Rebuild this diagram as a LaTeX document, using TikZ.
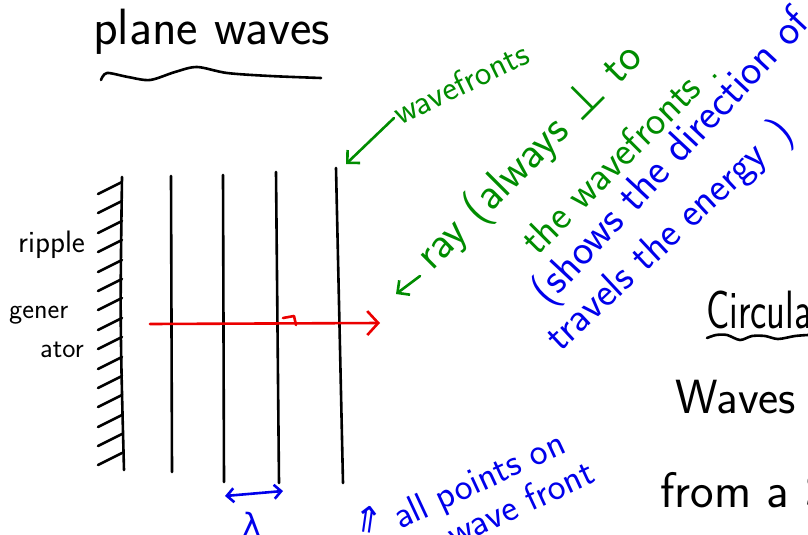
\documentclass[tikz,border=0pt]{standalone}
\usepackage{fontspec}
\usepackage{graphicx}
\usepackage{xcolor}
\usepackage{tikz}
\usetikzlibrary{calc,arrows.meta}
\newfontfamily\symfont{DejaVu Sans}
\definecolor{inkk}{HTML}{000000}
\definecolor{inkg}{HTML}{008C00}
\definecolor{inkb}{HTML}{0000EB}
\definecolor{inkr}{HTML}{EB0000}
\tikzset{
  pen/.style={line width=2.6pt,line cap=round,line join=round},
  barb/.style={-{Straight Barb[length=9pt,width=18pt,line width=2.6pt]}},
  hand/.style={font=\fontsize{#1}{#1}\selectfont\sffamily,inner sep=0pt,anchor=base west}
}
\begin{document}
\begin{tikzpicture}[x=1pt,y=-1pt]
\useasboundingbox (0,0) rectangle (808,535);
\clip (0,0) rectangle (808,535);
% title
\node[hand=51,inkk] (title) at (93,45) {plane waves};
\draw[pen,inkk] plot[smooth] coordinates {(101,80) (107,73) (128,77) (150,80) (175,72) (197,67) (227,73) (270,76) (321,78)};
% ripple generator
\draw[pen,inkk] (122,177) .. controls (120,320) .. (124,470);
\foreach \y in {182,201,221,240,260,279,298,318,337,357,376,395,415,434,453}{
  \draw[pen,inkk] (98,\y+12) -- (122,\y);
}
\node[hand=31,inkk] (ripple) at (18,252) {ripple};
\node[hand=28,inkk] (gener) at (9,318) {gener};
\node[hand=28,inkk] (ator) at (40,357) {ator};
% wavefronts
\coordinate (w1t) at (171,176); \coordinate (w1b) at (172,472);
\coordinate (w2t) at (223,175); \coordinate (w2b) at (224,482);
\coordinate (w3t) at (276,172); \coordinate (w3b) at (279,483);
\coordinate (w4t) at (336,168); \coordinate (w4b) at (343,483);
\draw[pen,inkk] (w1t) -- (w1b);
\draw[pen,inkk] (w2t) -- (w2b);
\draw[pen,inkk] (w3t) -- (w3b);
\draw[pen,inkk] (w4t) -- (w4b);
% ray
\coordinate (raystart) at (150,324);
\coordinate (rayend) at (380,323);
\draw[pen,inkr,-{Straight Barb[length=11pt,width=24pt,line width=2.6pt]}] (raystart) -- (rayend);
\draw[pen,inkr] (283,318) -- (294,316) -- (296,325);
% green notes
\node[hand=35,inkg,rotate=26] (wftxt) at (400,126) {wavefronts};
\coordinate (wftail) at (394,118);
\draw[pen,inkg,barb] (wftail) -- ($(w4t)+(10,-4)$);
\node[hand=45,inkg,rotate=45] (raytxt) at (432,272) {ray (always {\symfont ⊥} to};
\node[hand=41,inkg,rotate=45] (raytxt2) at (537,257) {the wavefronts .};
\coordinate (raytail) at (420,276);
\coordinate (raytip) at (396,294);
\draw[pen,inkg,barb] (raytail) -- (raytip);
% blue notes
\node[hand=43,inkb,rotate=47] (shows) at (548,307) {(shows the direction of};
\node[hand=41,inkb,rotate=43] (travels) at (560,353) {travels the energy \,)};
% circular waves
\node[hand=54,inkk] (circ) at (706,328) {\scalebox{0.72}[1]{Circular}};
\draw[pen,inkk] plot[smooth] coordinates {(707,338) (716,335) (727,335) (740,340) (752,336) (765,336) (778,339) (795,336) (808,335)};
\node[hand=48,inkk] (waves) at (675,413) {Waves};
\node[hand=50,inkk] (from) at (660,507) {from a S};
% wavelength
\coordinate (lamL) at (225,496);
\coordinate (lamR) at (283,491);
\draw[pen,inkb,{Straight Barb[length=7pt,width=14pt,line width=2.6pt]}-{Straight Barb[length=7pt,width=14pt,line width=2.6pt]}] (lamL) -- (lamR);
\node[font=\fontsize{32}{32}\selectfont\symfont,inkb,inner sep=0pt] (lam) at (252,524) {λ};
% points on a wave front
\node[font=\fontsize{36}{36}\selectfont\symfont,inkb,inner sep=0pt,rotate=-8] (up) at (368,520) {⇑};
\node[hand=38,inkb,rotate=25] (allpts) at (400,530) {all points on};
\node[hand=38,inkb,rotate=25] (wavefr) at (428,560) {a wave front};
\end{tikzpicture}
\end{document}
